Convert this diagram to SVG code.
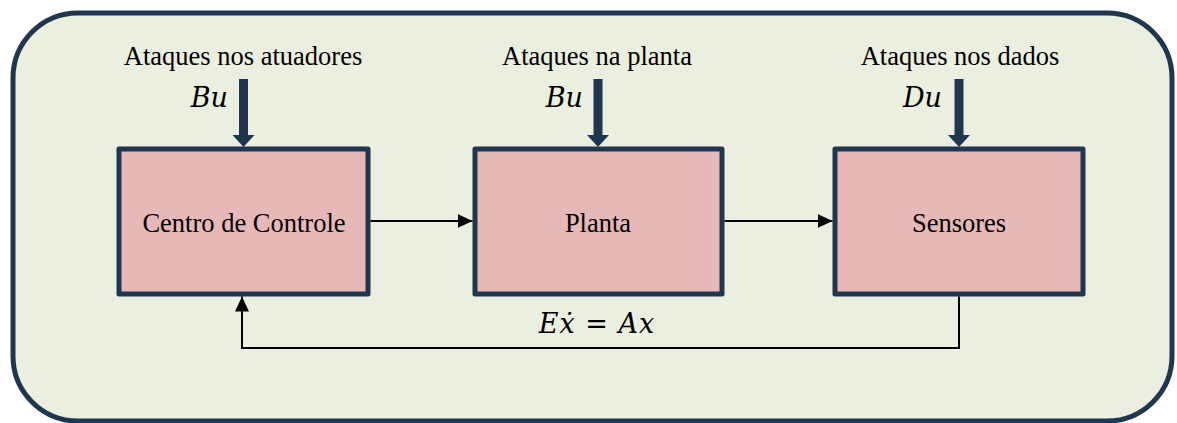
<svg xmlns="http://www.w3.org/2000/svg" width="1177" height="423" viewBox="0 0 1177 423">
<style>
.lbl{font-family:"Liberation Serif","Times New Roman",serif;font-size:26.5px;fill:#000;text-anchor:middle}
.math{font-family:"DejaVu Serif",serif;font-style:italic;font-size:27px;fill:#000}
.box{fill:#e6b8b7;stroke:#1f3650;stroke-width:5;stroke-linejoin:round}
.thick{fill:#1f3650}
.conn{fill:none;stroke:#000;stroke-width:2}
</style>
<defs>
<marker id="ah" viewBox="0 0 15 14" refX="15" refY="7" markerWidth="15" markerHeight="14" markerUnits="userSpaceOnUse" orient="auto">
<path d="M0,0 L15,7 L0,14 Z" fill="#000"/>
</marker>
</defs>
<rect id="frame" x="13" y="13" width="1159" height="408" rx="65" ry="65" fill="#ebefdf" stroke="#1f3650" stroke-width="5"/>
<g id="attack-actuators">
<text class="lbl" font-family="Liberation Serif, serif" x="243" y="65">Ataques nos atuadores</text>
<text class="math" font-family="DejaVu Serif, serif" x="228" y="107" text-anchor="end">Bu</text>
<polygon class="thick" points="239,79 248,79 248,135 254.5,135 243.5,147 232.5,135 239,135"/>
</g>
<g id="attack-plant">
<text class="lbl" font-family="Liberation Serif, serif" x="597" y="65">Ataques na planta</text>
<text class="math" font-family="DejaVu Serif, serif" x="583" y="107" text-anchor="end">Bu</text>
<polygon class="thick" points="593.5,79 602.5,79 602.5,135 609,135 598,147 587,135 593.5,135"/>
</g>
<g id="attack-data">
<text class="lbl" font-family="Liberation Serif, serif" x="960" y="65">Ataques nos dados</text>
<text class="math" font-family="DejaVu Serif, serif" x="942" y="107" text-anchor="end">Du</text>
<polygon class="thick" points="954.5,79 963.5,79 963.5,135 970,135 959,147 948,135 954.5,135"/>
</g>
<g id="control-center">
<rect class="box" x="119" y="149" width="249" height="145"/>
<text class="lbl" font-family="Liberation Serif, serif" x="244" y="232">Centro de Controle</text>
</g>
<g id="plant">
<rect class="box" x="475" y="149" width="247" height="145"/>
<text class="lbl" font-family="Liberation Serif, serif" x="598" y="232">Planta</text>
</g>
<g id="sensors">
<rect class="box" x="835" y="149" width="248" height="145"/>
<text class="lbl" font-family="Liberation Serif, serif" x="959" y="232">Sensores</text>
</g>
<g id="connectors">
<line class="conn" x1="370.5" y1="221" x2="472.5" y2="221" marker-end="url(#ah)"/>
<line class="conn" x1="724.5" y1="221" x2="832.5" y2="221" marker-end="url(#ah)"/>
<polyline class="conn" points="959,296.5 959,348 242,348 242,296.5" marker-end="url(#ah)"/>
</g>
<text id="equation" class="math" font-family="DejaVu Serif, serif" x="597" y="333" text-anchor="middle" letter-spacing="1">Eẋ = Ax</text>
</svg>
